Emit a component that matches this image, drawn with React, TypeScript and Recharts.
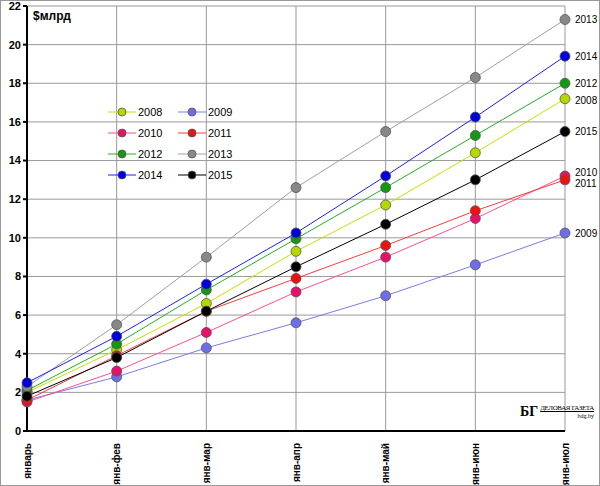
import { LineChart, Line, XAxis, YAxis, CartesianGrid, LabelList } from 'recharts';

const months = ['январь', 'янв-фев', 'янв-мар', 'янв-апр', 'янв-май', 'янв-июн', 'янв-июл'];
const y2008 = [2.0, 4.2, 6.6, 9.3, 11.7, 14.4, 17.2];
const y2009 = [1.6, 2.8, 4.3, 5.6, 7.0, 8.6, 10.25];
const y2010 = [1.5, 3.1, 5.1, 7.2, 9.0, 11.0, 13.2];
const y2011 = [1.6, 3.9, 6.2, 7.9, 9.6, 11.4, 13.0];
const y2012 = [2.1, 4.5, 7.3, 9.95, 12.6, 15.3, 18.0];
const y2013 = [2.3, 5.5, 9.0, 12.6, 15.5, 18.3, 21.3];
const y2014 = [2.5, 4.9, 7.6, 10.25, 13.2, 16.25, 19.4];
const y2015 = [1.8, 3.8, 6.2, 8.5, 10.7, 13.0, 15.5];
const yTicks = [0, 2, 4, 6, 8, 10, 12, 14, 16, 18, 20, 22];

const series = [
  { key: 'y2008', name: '2008', values: y2008, line: '#c8e000', dot: '#b5d800', dy: 2 },
  { key: 'y2009', name: '2009', values: y2009, line: '#7b7bee', dot: '#6e6ee8', dy: 1 },
  { key: 'y2010', name: '2010', values: y2010, line: '#ff4f8f', dot: '#e8106a', dy: -4 },
  { key: 'y2011', name: '2011', values: y2011, line: '#ff3b3b', dot: '#ee1111', dy: 4 },
  { key: 'y2012', name: '2012', values: y2012, line: '#22b022', dot: '#119911', dy: 0 },
  { key: 'y2013', name: '2013', values: y2013, line: '#a0a0a0', dot: '#888888', dy: 0 },
  { key: 'y2014', name: '2014', values: y2014, line: '#2020ee', dot: '#0000dd', dy: 0 },
  { key: 'y2015', name: '2015', values: y2015, line: '#000000', dot: '#000000', dy: 0 },
];

const data = months.map((m, i) => {
  const row: Record<string, string | number> = { month: m };
  series.forEach((s) => { row[s.key] = s.values[i]; });
  return row;
});

const font = '"Liberation Sans", Arial, sans-serif';

const XTick = ({ x, y, payload }: any) => (
  <text x={x} y={y + 4} transform={`rotate(-90 ${x} ${y + 4})`} textAnchor="end" dominantBaseline="central"
    fontSize={10} fontWeight="bold" fontFamily={font} fill="#000">{payload.value}</text>
);

const endLabel = (name: string, dy: number) => (props: any) => {
  if (props.index !== months.length - 1) return null;
  return (
    <text x={props.x + 10} y={props.y + dy} dominantBaseline="central" fontSize={10} fontFamily={font} fill="#000">{name}</text>
  );
};

export default function App() {
  return (
    <div style={{ position: 'absolute', left: 0, top: 0, width: 600, height: 486, background: '#fff', fontFamily: font }}>
      <div style={{ position: 'absolute', left: 0, top: 0, width: 598, height: 484, border: '1px solid #999' }} />
      <LineChart width={600} height={486} data={data} margin={{ top: 6, right: 35, bottom: 0, left: 5 }}>
        <CartesianGrid stroke="#999" strokeWidth={1} />
        <XAxis dataKey="month" tick={<XTick />} interval={0} height={55} stroke="#000" strokeWidth={2} tickLine={false} />
        <YAxis domain={[0, 22]} ticks={yTicks} width={22} stroke="#000" strokeWidth={2} tickSize={4}
          tick={{ fontSize: 11, fontWeight: 'bold', fill: '#000', fontFamily: font }} interval={0} />
        {series.map((s) => (
          <Line key={s.key} dataKey={s.key} stroke={s.line} strokeWidth={1} isAnimationActive={false}
            dot={{ r: 5, fill: s.dot, stroke: '#555', strokeWidth: 0.8 }}>
            <LabelList dataKey={s.key} content={endLabel(s.name, s.dy)} />
          </Line>
        ))}
      </LineChart>
      <div style={{ position: 'absolute', left: 33, top: 9, fontSize: 12, fontWeight: 'bold' }}>$млрд</div>
      <div style={{ position: 'absolute', left: 108, top: 104, display: 'grid', gridTemplateColumns: '70px 70px', rowGap: 6, fontSize: 11 }}>
        {series.map((s) => (
          <div key={s.key} style={{ display: 'flex', alignItems: 'center', height: 15 }}>
            <svg width={28} height={12}>
              <line x1={0} x2={28} y1={6} y2={6} stroke={s.line} />
              <circle cx={14} cy={6} r={4} fill={s.dot} stroke="#555" strokeWidth={0.8} />
            </svg>
            <span style={{ marginLeft: 2 }}>{s.name}</span>
          </div>
        ))}
      </div>
      <div style={{ position: 'absolute', left: 520, top: 404, display: 'flex', alignItems: 'center', whiteSpace: 'nowrap' }}>
        <span style={{ fontFamily: 'serif', fontWeight: 'bold', fontSize: 14 }}>БГ</span>
        <div style={{ marginLeft: 2, fontFamily: '"Liberation Serif", serif', lineHeight: '8px' }}>
          <div style={{ fontSize: 7, letterSpacing: -0.4, textDecoration: 'underline' }}>ДЕЛОВАЯ ГАЗЕТА</div>
          <div style={{ fontSize: 6, textAlign: 'right' }}>bdg.by</div>
        </div>
      </div>
    </div>
  );
}
